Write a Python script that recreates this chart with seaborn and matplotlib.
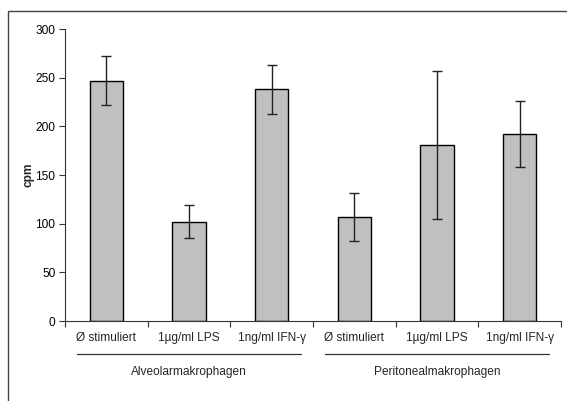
import numpy as np
import pandas as pd
import matplotlib
matplotlib.use("Agg")
import matplotlib.pyplot as plt
import matplotlib.transforms as mtransforms
from matplotlib.patches import Rectangle
import seaborn as sns

# Data
groups = ["Alveolarmakrophagen", "Peritonealmakrophagen"]
treatments = ["Ø stimuliert", "1µg/ml LPS", "1ng/ml IFN-γ"]
cpm_alveolar = [247, 102, 238]
cpm_peritoneal = [107, 181, 192]
err_alveolar = [25, 17, 25]
err_peritoneal = [25, 76, 34]
y_ticks = [0, 50, 100, 150, 200, 250, 300]

df = pd.DataFrame({
    "group": np.repeat(groups, len(treatments)),
    "treatment": treatments * len(groups),
    "cpm": cpm_alveolar + cpm_peritoneal,
    "err": err_alveolar + err_peritoneal,
})
df["key"] = df["group"] + " / " + df["treatment"]

sns.set_style("white")
plt.rcParams["font.family"] = ["Liberation Sans", "DejaVu Sans"]
FS = 8.6

fig = plt.figure(figsize=(5.67, 4.01), dpi=100)
W, H = 567, 401
ax = fig.add_axes([65 / W, (H - 321) / H, (561 - 65) / W, (321 - 29) / H])

sns.barplot(data=df, x="key", y="cpm", order=list(df["key"]), color="#c0c0c0",
            edgecolor="black", linewidth=1.0, width=0.4, errorbar=None,
            saturation=1, ax=ax)
xs = np.arange(len(df))
ax.errorbar(xs, df["cpm"], yerr=df["err"], fmt="none", ecolor="#222222",
            elinewidth=1.0, capsize=3.5, capthick=1.0)

ax.set_ylim(0, 300)
ax.set_xlim(-0.5, len(df) - 0.5)
ax.set_yticks(y_ticks)
ax.tick_params(axis="y", labelsize=FS, length=4, width=0.8, direction="out",
               left=True, pad=3, colors="#333333")
ax.tick_params(axis="y", labelcolor="black")

# category boundary ticks, labels centered under bars
ax.set_xticks(np.arange(len(df) + 1) - 0.5)
ax.set_xticklabels([])
ax.set_xticks(xs, minor=True)
ax.set_xticklabels(df["treatment"], minor=True, fontsize=FS)
ax.tick_params(axis="x", which="major", length=4, width=0.8, bottom=True,
               direction="out", colors="#333333")
ax.tick_params(axis="x", which="minor", length=0, pad=8)

ax.set_xlabel("")
ax.set_ylabel("cpm", fontsize=FS, fontweight="bold", labelpad=0.5)

for s in ["top", "right"]:
    ax.spines[s].set_visible(False)
for s in ["left", "bottom"]:
    ax.spines[s].set_color("#333333")
    ax.spines[s].set_linewidth(0.8)

# group brackets
trans = mtransforms.blended_transform_factory(ax.transData, ax.transAxes)
for gi, g in enumerate(groups):
    center = gi * len(treatments) + (len(treatments) - 1) / 2
    ax.plot([center - 1.36, center + 1.36], [-0.113, -0.113], color="#333333",
            lw=0.9, transform=trans, clip_on=False)
    ax.text(center, -0.175, g, transform=trans, ha="center", va="center",
            fontsize=FS)

# outer chart frame (clipped at right and bottom like the reference)
fig.patches.append(Rectangle((8 / W, -0.05), 1.1, 1 - 11 / H + 0.05,
                             transform=fig.transFigure, fill=False,
                             edgecolor="#444444", linewidth=1.0))

fig.savefig("out.png", dpi=100)
